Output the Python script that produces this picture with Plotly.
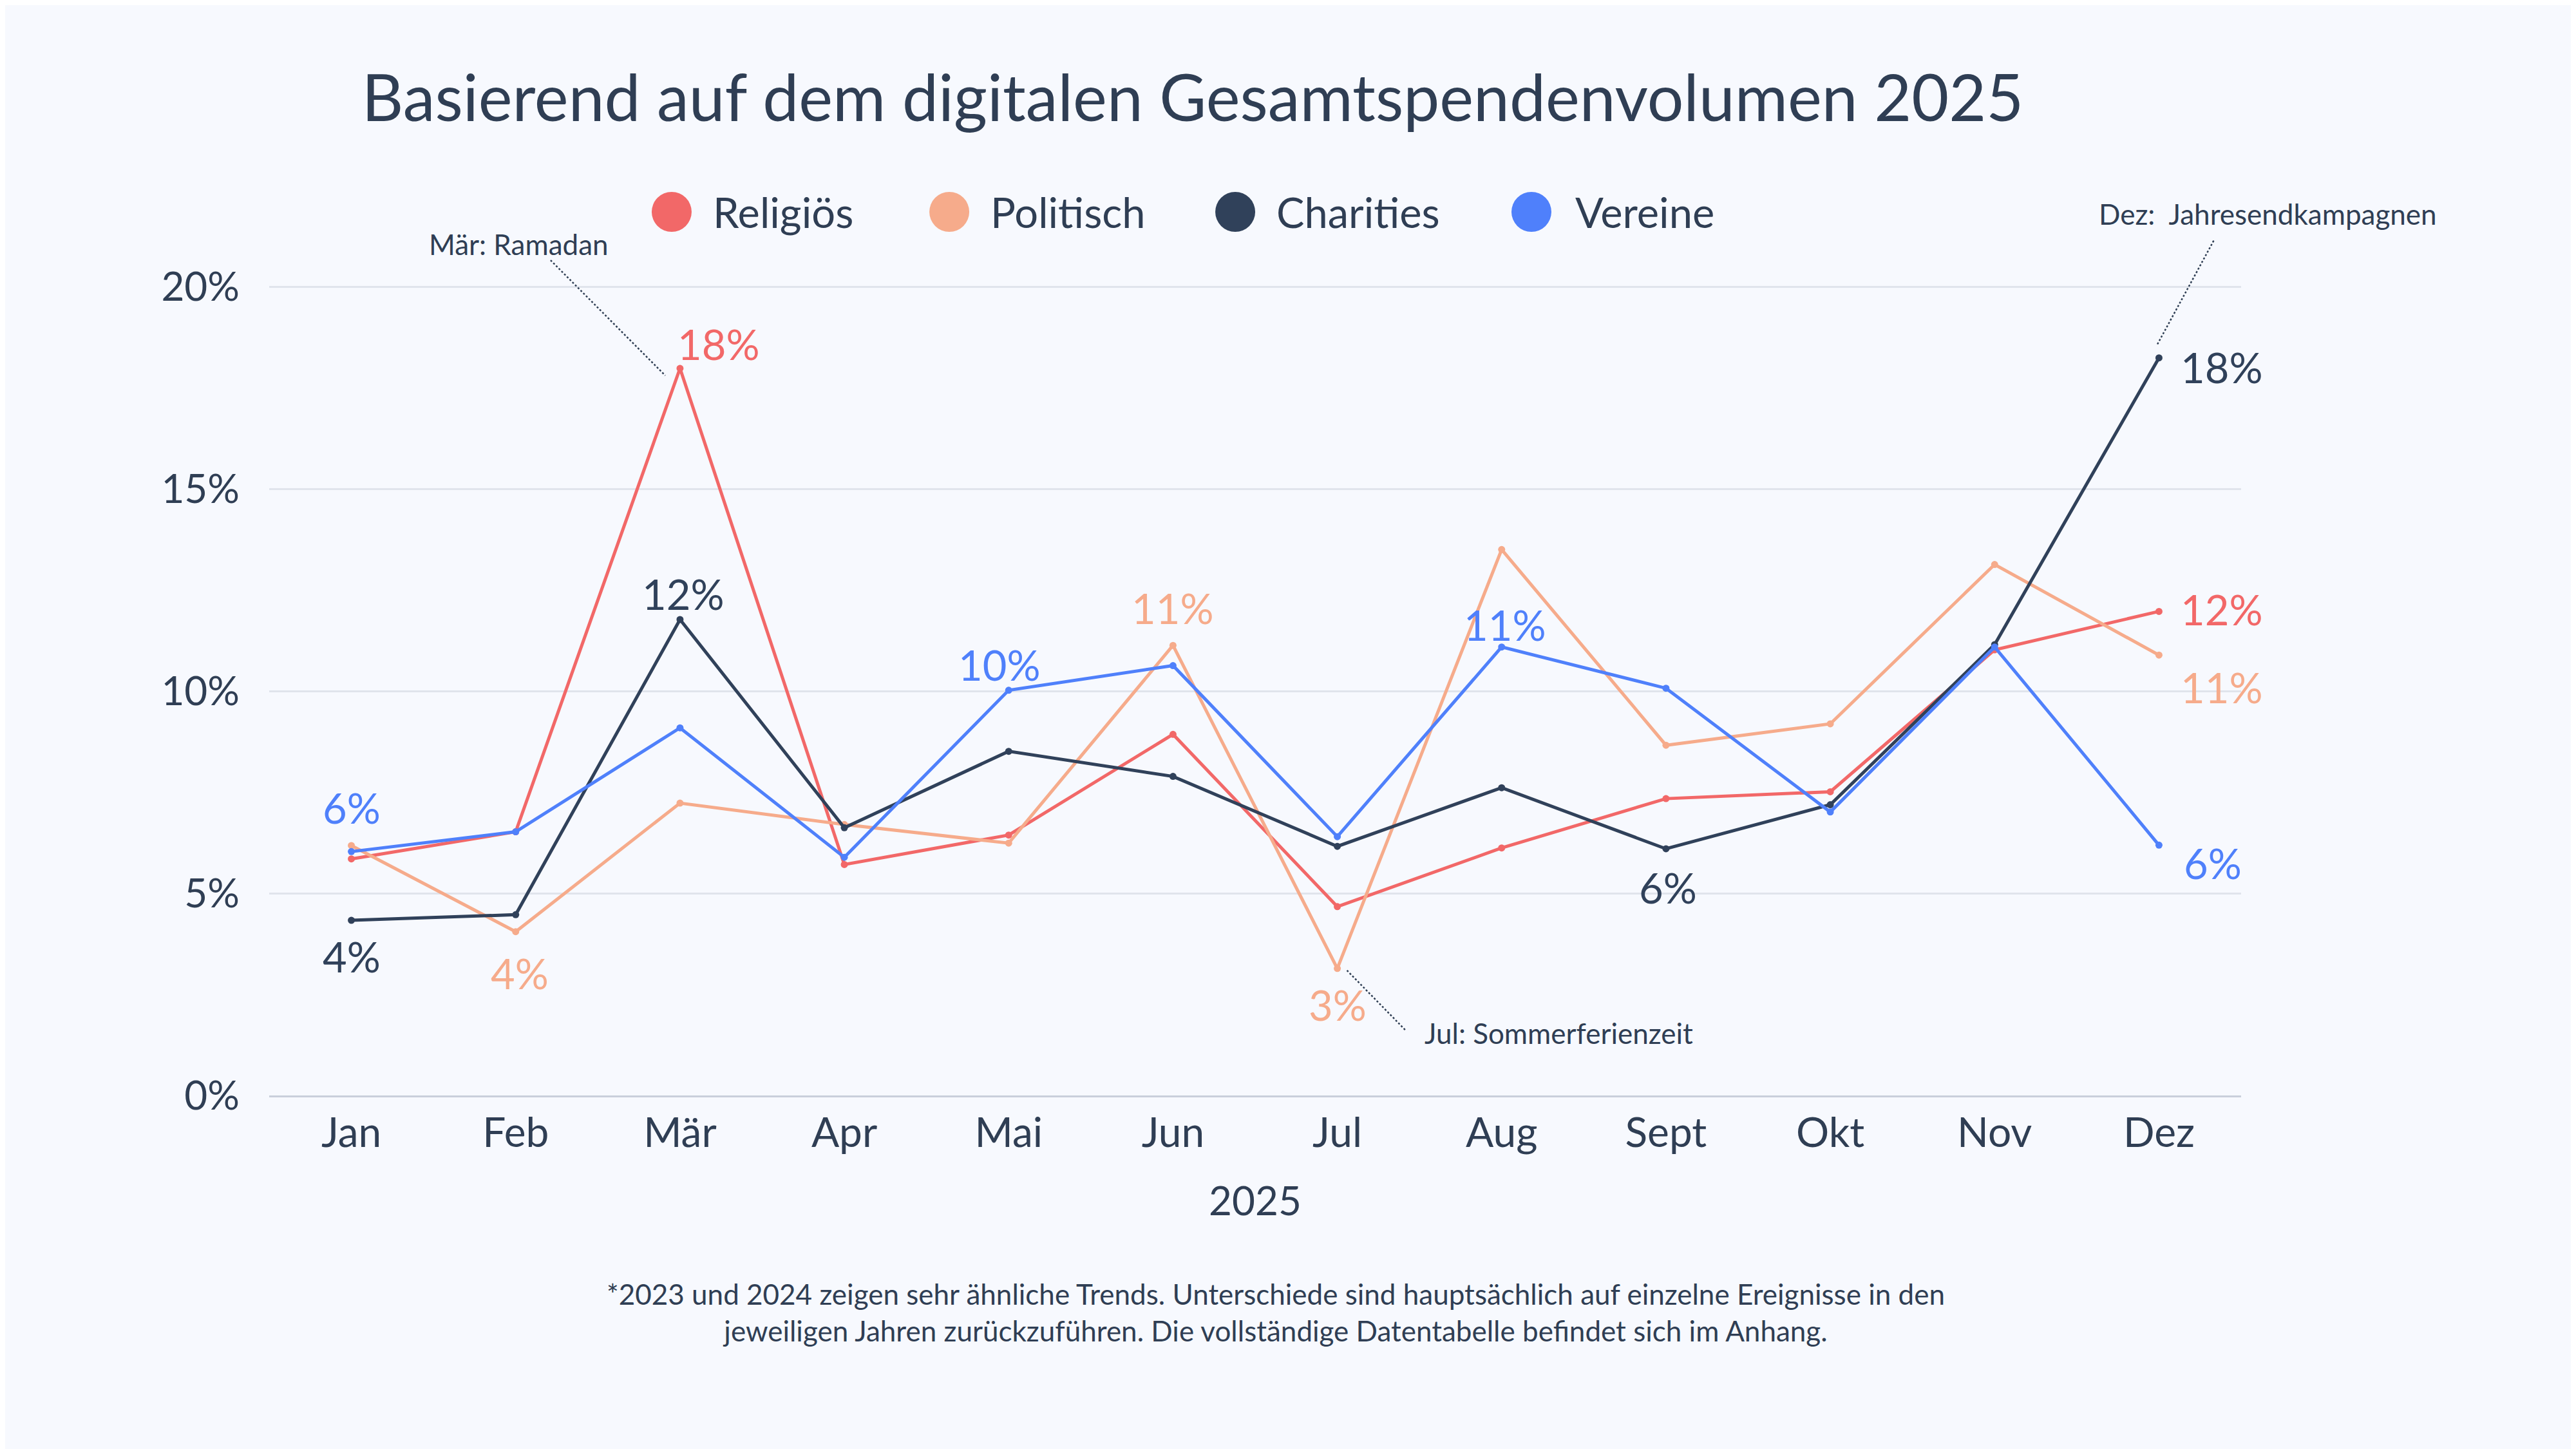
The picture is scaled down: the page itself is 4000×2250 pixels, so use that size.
import plotly.graph_objects as go

# Monate und Anteile am digitalen Gesamtspendenvolumen 2025 (in %)
monate = ["Jan", "Feb", "Mär", "Apr", "Mai", "Jun", "Jul", "Aug", "Sept", "Okt", "Nov", "Dez"]

religioes = [5.85, 6.52, 17.98, 5.71, 6.44, 8.93, 4.67, 6.12, 7.34, 7.51, 11.02, 11.97]
politisch = [6.18, 4.05, 7.23, 6.70, 6.24, 11.13, 3.14, 13.50, 8.66, 9.19, 13.13, 10.89]
charities = [4.33, 4.47, 11.77, 6.62, 8.51, 7.89, 6.16, 7.61, 6.10, 7.19, 11.15, 18.24]
vereine = [6.03, 6.52, 9.09, 5.89, 10.02, 10.63, 6.40, 11.09, 10.07, 7.01, 11.09, 6.19]

y_ticks = [0, 5, 10, 15, 20]

# beschriftete Punkte: Index -> (xshift, yshift, xanchor) in Pixeln
labels_religioes = {2: (60, 38, "center"), 11: (32, 3, "left")}
labels_politisch = {1: (6, -64, "center"), 5: (0, 58, "center"), 6: (0, -56, "center"), 11: (32, -50, "left")}
labels_charities = {0: (0, -56, "center"), 2: (5, 40, "center"), 8: (3, -60, "center"), 11: (32, -14, "left")}
labels_vereine = {0: (0, 68, "center"), 4: (-14, 40, "center"), 7: (5, 35, "center"), 11: (37, -28, "left")}

TEXT = "#2f3e54"
BG = "#f7f9fe"
FONT = "Lato"

serien = [
    ("Religiös", religioes, "#f26868", labels_religioes),
    ("Politisch", politisch, "#f6ab8b", labels_politisch),
    ("Charities", charities, "#30415a", labels_charities),
    ("Vereine", vereine, "#4f80fb", labels_vereine),
]

fig = go.Figure()
annotations = []
shapes = []

for name, werte, farbe, labels in serien:
    fig.add_trace(go.Scatter(
        x=monate, y=werte, name=name,
        mode="lines+markers",
        line=dict(color=farbe, width=5),
        marker=dict(color=farbe, size=11),
        showlegend=False,
    ))
    for i, (xs, ys, xa) in labels.items():
        annotations.append(dict(
            text=f"{round(werte[i])}%", x=monate[i], y=werte[i],
            xref="x", yref="y", xshift=xs, yshift=ys,
            xanchor=xa, yanchor="middle", showarrow=False,
            font=dict(size=65, color=farbe, family=FONT),
        ))

# eigene Legende (größere Kreise als die Plotly-Legende erlaubt)
legende_x = [0.2041, 0.3449, 0.4899, 0.6401]
legende_text_x = [0.2244, 0.3651, 0.5101, 0.6617]
legende_y = 1.0163
for (name, _, farbe, _), cx, tx in zip(serien, legende_x, legende_text_x):
    shapes.append(dict(
        type="circle", xref="paper", yref="paper",
        xsizemode="pixel", ysizemode="pixel",
        xanchor=cx, yanchor=legende_y,
        x0=-31, x1=31, y0=-31, y1=31,
        fillcolor=farbe, line=dict(width=0),
    ))
    annotations.append(dict(
        text=name, xref="paper", yref="paper", x=tx, y=legende_y,
        xanchor="left", yanchor="middle", showarrow=False,
        font=dict(size=65, color=TEXT, family=FONT),
    ))

# Ereignis-Hinweise mit gepunkteten Verbindungslinien
hinweise = [
    # (Text, Monat-Index, Wert, Linie dx0, dy0, dx1, dy1, Text xshift, yshift, xanchor)
    ("Mär: Ramadan", 2, religioes[2], -201, 168, -23, -11, -250, 193, "center"),
    ("Jul: Sommerferienzeit", 6, politisch[6], 15, -3, 106, -96, 133, -100, "left"),
    ("Dez:  Jahresendkampagnen", 11, charities[11], 85, 182, -3, 20, 169, 224, "center"),
]
for text, idx, wert, dx0, dy0, dx1, dy1, xs, ys, xa in hinweise:
    shapes.append(dict(
        type="line", xref="x", yref="y",
        xsizemode="pixel", ysizemode="pixel",
        xanchor=monate[idx], yanchor=wert,
        x0=dx0, x1=dx1, y0=dy0, y1=dy1,
        line=dict(color=TEXT, width=2.5, dash="dot"),
    ))
    annotations.append(dict(
        text=text, x=monate[idx], y=wert, xref="x", yref="y",
        xshift=xs, yshift=ys, xanchor=xa, yanchor="middle",
        showarrow=False, font=dict(size=44, color=TEXT, family=FONT),
    ))

annotations.append(dict(
    text="*2023 und 2024 zeigen sehr ähnliche Trends. Unterschiede sind hauptsächlich auf einzelne Ereignisse in den"
         "<br>jeweiligen Jahren zurückzuführen. Die vollständige Datentabelle befindet sich im Anhang.",
    xref="paper", yref="paper", x=0.5104, y=-0.2496,
    xanchor="center", yanchor="middle", align="center", showarrow=False,
    font=dict(size=44, color=TEXT, family=FONT),
))

fig.update_layout(
    width=4000, height=2250,
    paper_bgcolor=BG, plot_bgcolor=BG,
    margin=dict(l=410, r=528, t=343, b=557),
    font=dict(family=FONT, color=TEXT),
    title=dict(
        text="Basierend auf dem digitalen Gesamtspendenvolumen 2025",
        x=0.461, xanchor="center", xref="container",
        y=0.9356, yanchor="middle",
        font=dict(size=100, color=TEXT, family=FONT),
    ),
    xaxis=dict(
        type="category", range=[-0.5, 11.5],
        showgrid=False, showline=True, linecolor="#c9cfdb", linewidth=3,
        ticks="", tickfont=dict(size=64, color=TEXT), ticklabelstandoff=0,
        title=dict(text="2025", font=dict(size=62, color=TEXT), standoff=50),
    ),
    yaxis=dict(
        range=[0, 21.5], tickmode="array", tickvals=y_ticks,
        ticktext=[f"{v}%" for v in y_ticks],
        showgrid=True, gridcolor="#e0e4ec", gridwidth=2.5,
        zeroline=False, showline=False,
        tickfont=dict(size=62, color=TEXT), ticklabelstandoff=45,
    ),
    shapes=shapes,
    annotations=annotations,
)

fig.write_html("out.html")
